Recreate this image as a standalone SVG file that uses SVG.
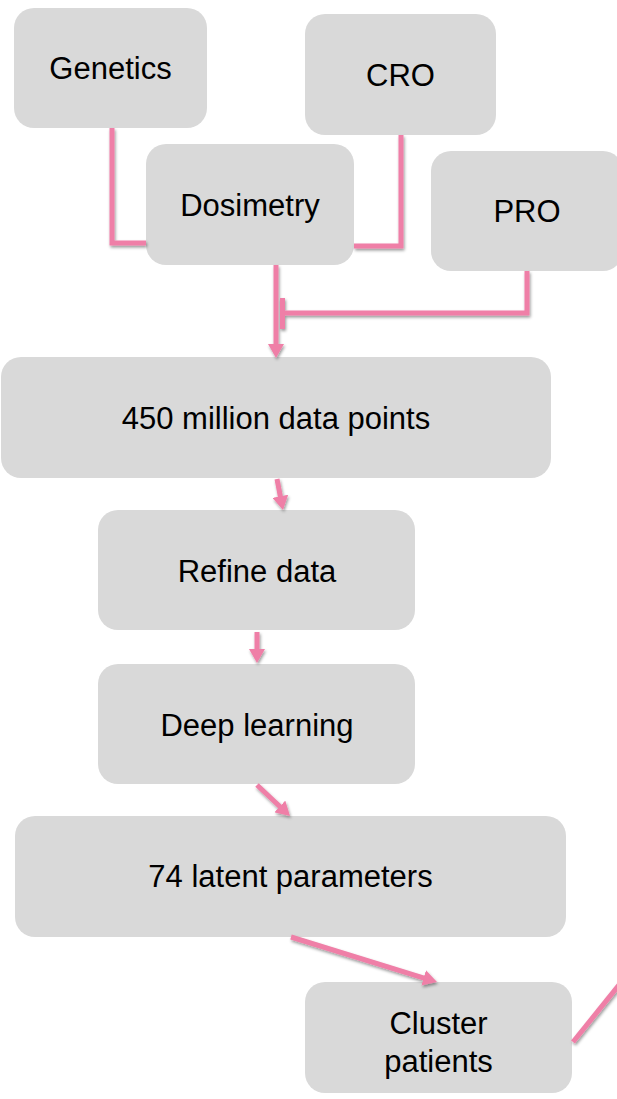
<svg xmlns="http://www.w3.org/2000/svg" width="617" height="1099" viewBox="0 0 617 1099">
  <style>
    .box { fill: #d9d9d9; }
    .label { font-family: "Liberation Sans", Arial, sans-serif; font-size: 31px; fill: #000; text-anchor: middle; }
    .wire { fill: none; stroke: #ef7fa7; stroke-width: 5; stroke-linejoin: miter; }
    .arrow { marker-end: url(#head); }
  </style>
  <defs>
    <marker id="head" viewBox="0 0 14 16" refX="3" refY="8" markerWidth="14" markerHeight="16" markerUnits="userSpaceOnUse" orient="auto">
      <path d="M0,0 L14,8 L0,16 Z" fill="#ef7fa7"/>
    </marker>
    <filter id="shadow" x="-20%" y="-20%" width="140%" height="140%">
      <feDropShadow dx="1" dy="2" stdDeviation="1.5" flood-color="#000" flood-opacity="0.4"/>
    </filter>
  </defs>

  <rect width="617" height="1099" fill="#fff"/>

  <!-- source nodes -->
  <g id="genetics">
    <rect class="box" x="14" y="8" width="193" height="120" rx="20"/>
    <text class="label" x="110.5" y="79">Genetics</text>
  </g>
  <g id="cro">
    <rect class="box" x="305" y="14" width="191" height="121" rx="20"/>
    <text class="label" x="400.5" y="86">CRO</text>
  </g>
  <g id="dosimetry">
    <rect class="box" x="146" y="144" width="208" height="121" rx="20"/>
    <text class="label" x="250" y="216">Dosimetry</text>
  </g>
  <g id="pro">
    <rect class="box" x="431" y="151" width="192" height="120" rx="20"/>
    <text class="label" x="527" y="222">PRO</text>
  </g>

  <!-- pipeline nodes -->
  <g id="datapoints">
    <rect class="box" x="1" y="357" width="550" height="121" rx="20"/>
    <text class="label" x="276" y="429">450 million data points</text>
  </g>
  <g id="refine">
    <rect class="box" x="98" y="510" width="317" height="120" rx="20"/>
    <text class="label" x="257" y="582">Refine data</text>
  </g>
  <g id="deeplearning">
    <rect class="box" x="98" y="664" width="317" height="120" rx="20"/>
    <text class="label" x="257" y="736">Deep learning</text>
  </g>
  <g id="latent">
    <rect class="box" x="15" y="816" width="551" height="121" rx="20"/>
    <text class="label" x="290.5" y="887">74 latent parameters</text>
  </g>
  <g id="cluster">
    <rect class="box" x="305" y="982" width="267" height="111" rx="20"/>
    <text class="label" x="438.5" y="1034">Cluster</text>
    <text class="label" x="438.5" y="1072">patients</text>
  </g>

  <!-- connectors -->
  <g id="connectors" filter="url(#shadow)">
    <path class="wire" d="M112,128 V243 H146"/>
    <path class="wire" d="M401,135 V246 H354"/>
    <path class="wire" d="M527,271 V313 H283"/>
    <path class="wire" d="M282.5,298 V329" stroke-width="4"/>
    <path class="wire arrow" d="M276,265 V347"/>
    <path class="wire arrow" d="M277,479 L280.9,499.2"/>
    <path class="wire arrow" d="M257,632 V652"/>
    <path class="wire arrow" d="M257,785 L282,808.5"/>
    <path class="wire arrow" d="M291,937 L426.5,978.8"/>
    <path class="wire" d="M573,1042 L640,959" stroke-width="4.5"/>
  </g>
</svg>
